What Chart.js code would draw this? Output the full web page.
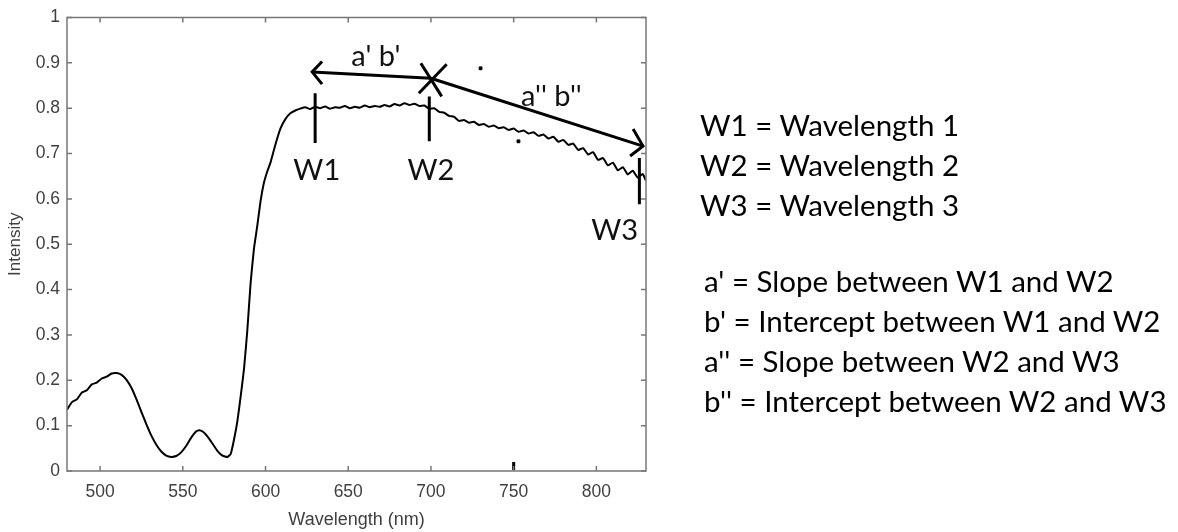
<!DOCTYPE html>
<html>
<head>
<meta charset="utf-8">
<script src="https://cdn.jsdelivr.net/npm/chart.js@4.4.0/dist/chart.umd.min.js"></script>
<style>
  body { margin: 0; background: #fff; }
  #wrap { position: relative; width: 1178px; height: 532px; }
  .legend { position: absolute; font-family: Lato, "Noto Sans", sans-serif; font-size: 29.5px; line-height: 40px; color: #000; white-space: nowrap; }
</style>
</head>
<body>
<div id="wrap">
  <canvas id="myChart" width="1178" height="532"></canvas>
  <div class="legend" style="left:700px; top:105px;">W1 = Wavelength 1<br>W2 = Wavelength 2<br>W3 = Wavelength 3</div>
  <div class="legend" style="left:704px; top:261px;">a' = Slope between W1 and W2<br>b' = Intercept between W1 and W2<br>a'' = Slope between W2 and W3<br>b'' = Intercept between W2 and W3</div>
</div>
<script>
// spectrum
const wavelength = [
  480, 483, 486, 489, 492, 495, 498, 501, 504, 507, 510, 513, 516, 519, 522, 525, 528, 531, 534, 537,
  540, 543, 546, 549, 552, 555, 558, 560, 562, 565, 568, 571, 574, 577, 579, 581, 583, 585, 587, 589,
  591, 593, 595, 597, 599, 601, 603, 606, 609, 612, 615, 618, 621, 624, 627, 630, 633, 636, 639, 642,
  645, 648, 651, 654, 657, 660, 663, 666, 669, 672, 675, 678, 681, 684, 687, 690, 693, 696, 699, 702,
  705, 708, 711, 714, 717, 720, 723, 726, 729, 732, 735, 738, 741, 744, 747, 750, 753, 756, 759, 762,
  765, 768, 771, 774, 777, 780, 783, 786, 789, 792, 795, 798, 801, 804, 807, 810, 813, 816, 819, 822,
  825, 828, 830
];
const intensity = [
  0.135, 0.152, 0.158, 0.173, 0.178, 0.191, 0.195, 0.204, 0.208, 0.215, 0.216, 0.212, 0.201, 0.183, 0.158, 0.130, 0.103, 0.078, 0.058, 0.043,
  0.034, 0.031, 0.033, 0.041, 0.055, 0.073, 0.087, 0.090, 0.087, 0.076, 0.060, 0.044, 0.034, 0.031, 0.038, 0.070,
  0.110, 0.165, 0.225, 0.310,
  0.415, 0.490, 0.540, 0.595, 0.635, 0.660, 0.680, 0.720, 0.755, 0.776, 0.789, 0.795, 0.799, 0.802, 0.798, 0.803, 0.800, 0.804, 0.799, 0.802,
  0.801, 0.805, 0.800, 0.803, 0.801, 0.806, 0.802, 0.805, 0.803, 0.807, 0.804, 0.809, 0.806, 0.811, 0.807, 0.810, 0.805, 0.806, 0.799, 0.800,
  0.792, 0.790, 0.783, 0.781, 0.772, 0.774, 0.768, 0.770, 0.763, 0.765, 0.759, 0.762, 0.756, 0.758, 0.752, 0.755, 0.748, 0.751, 0.744, 0.747,
  0.739, 0.742, 0.733, 0.737, 0.726, 0.730, 0.719, 0.722, 0.708, 0.712, 0.698, 0.703, 0.686, 0.690, 0.674, 0.680, 0.663, 0.670, 0.654, 0.662,
  0.647, 0.655, 0.640
];

const xTicks = [500, 550, 600, 650, 700, 750, 800];
const yTicks = [0, 0.1, 0.2, 0.3, 0.4, 0.5, 0.6, 0.7, 0.8, 0.9, 1];

// hand drawn marks, in data units
const markW1 = [[630, 0.833], [630, 0.723]];
const markW2 = [[699, 0.826], [699, 0.727]];
const markW3 = [[826, 0.690], [826, 0.588]];
const arrowLeft = [[634.2, 0.903], [628.2, 0.880], [634.2, 0.853]];
const shaftLeft = [[628.2, 0.880], [699.9, 0.866]];
const crossA = [[693.9, 0.899], [706.5, 0.826]];
const crossB = [[709.5, 0.897], [692.7, 0.833]];
const shaftRight = [[699.9, 0.866], [828.2, 0.7165]];
const arrowRight = [[822.2, 0.754], [828.2, 0.7165], [820.4, 0.6945]];
const specks = [[730, 0.888], [752.9, 0.727]];
const bottomSpeck = [[750, 0.002], [750, 0.02]];

const labelText = ["W1", "W2", "W3", "a' b'", "a'' b''"];
const labelX = [631, 700, 811, 666.7, 772.8];
const labelY = [0.662, 0.662, 0.530, 0.914, 0.826];

function pts(arr) {
    return arr.map(p => ({x: p[0], y: p[1]}));
}
function mark(arr) {
    return {data: pts(arr), borderColor: '#000', borderWidth: 3, pointRadius: 0, tension: 0, fill: false};
}

const axisColor = '#777';
const textColor = '#404040';
const axisFont = '"Liberation Sans", Arial, sans-serif';

const frame = {
    id: 'frame',
    afterDraw(chart) {
        const c = chart.ctx, a = chart.chartArea;
        const xs = chart.scales.x, ys = chart.scales.y;
        c.save();
        c.strokeStyle = axisColor;
        c.lineWidth = 1.5;
        c.strokeRect(a.left, a.top, a.right - a.left, a.bottom - a.top);
        c.beginPath();
        xTicks.forEach(v => {
            const px = xs.getPixelForValue(v);
            c.moveTo(px, a.bottom); c.lineTo(px, a.bottom - 5);
            c.moveTo(px, a.top); c.lineTo(px, a.top + 5);
        });
        yTicks.forEach(v => {
            const py = ys.getPixelForValue(v);
            c.moveTo(a.left, py); c.lineTo(a.left + 5, py);
            c.moveTo(a.right, py); c.lineTo(a.right - 5, py);
        });
        c.stroke();
        // annotation words
        c.fillStyle = '#111';
        c.font = '29px Lato, "Noto Sans", sans-serif';
        c.textAlign = 'center';
        c.textBaseline = 'middle';
        labelText.forEach((t, i) => {
            c.fillText(t, xs.getPixelForValue(labelX[i]), ys.getPixelForValue(labelY[i]));
        });
        c.restore();
    }
};

const ctx = document.getElementById('myChart').getContext('2d');

const config = {
    type: 'line',
    data: {
        datasets: [
            {
                label: 'Intensity',
                data: wavelength.map((w, i) => ({x: w, y: intensity[i]})),
                borderColor: '#000',
                borderWidth: 2,
                pointRadius: 0,
                tension: 0.15,
                fill: false
            },
            mark(markW1), mark(markW2), mark(markW3),
            mark(arrowLeft), mark(shaftLeft), mark(crossA), mark(crossB),
            mark(shaftRight), mark(arrowRight), mark(bottomSpeck),
            {
                type: 'scatter',
                data: pts(specks),
                pointStyle: 'rect',
                pointRadius: 2,
                backgroundColor: '#000',
                borderColor: '#000'
            }
        ]
    },
    options: {
        responsive: false,
        maintainAspectRatio: false,
        animation: false,
        layout: {padding: {top: 16, right: 532, left: 0, bottom: 0}},
        plugins: {legend: {display: false}, tooltip: {enabled: false}},
        scales: {
            x: {
                type: 'linear',
                min: 480,
                max: 830,
                afterBuildTicks: s => { s.ticks = xTicks.map(v => ({value: v})); },
                afterFit: s => { s.height = 61; },
                grid: {display: false, drawTicks: false},
                border: {display: false},
                ticks: {color: textColor, font: {family: axisFont, size: 17.5}, padding: 11, maxRotation: 0},
                title: {display: true, text: 'Wavelength (nm)', color: textColor, font: {family: axisFont, size: 18}, padding: {top: 0, bottom: 1}}
            },
            y: {
                type: 'linear',
                min: 0,
                max: 1,
                afterBuildTicks: s => { s.ticks = yTicks.map(v => ({value: v})); },
                afterFit: s => { s.width = 67; },
                grid: {display: false, drawTicks: false},
                border: {display: false},
                ticks: {color: textColor, font: {family: axisFont, size: 17.5}, padding: 7,
                    callback: v => String(Math.round(v * 10) / 10)},
                title: {display: true, text: 'Intensity', color: textColor, font: {family: axisFont, size: 17}, padding: {top: 5, bottom: 0}}
            }
        }
    },
    plugins: [frame]
};

const myChart = new Chart(ctx, config);
</script>
</body>
</html>
